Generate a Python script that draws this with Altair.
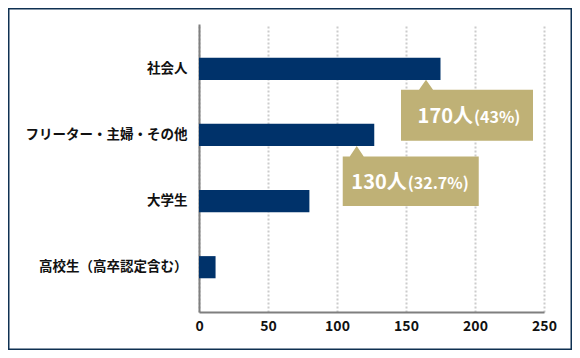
import altair as alt
import pandas as pd

# ---- data ----
categories = ["社会人", "フリーター・主婦・その他", "大学生", "高校生（高卒認定含む）"]
counts = [175, 127, 80, 12]

callout_cats = ["社会人", "フリーター・主婦・その他"]
callout_people = ["170人", "130人"]
callout_pcts = ["(43%)", "(32.7%)"]
callout_at = [164.5, 114.3]          # x value where each pointer touches the bar

x_ticks = [0, 50, 100, 150, 200, 250]

# ---- styles ----
NAVY = "#00326a"
GOLD = "#bfb176"
FRAME = "#0f3152"
FONT = "Noto Sans CJK JP"

# callout shapes (box + pointer), pixel units relative to band centre / anchor
callout_paths = [
    "M0,11 L7,21 L107,21 L107,72 L-25,72 L-25,21 L-7,21 Z",
    "M0,11 L7,21.5 L122,21.5 L122,71 L-14,71 L-14,21.5 L-7,21.5 Z",
]
callout_dx = [47, 50]
callout_dy = 54.5

bars_df = pd.DataFrame({"cat": categories, "n": counts})

x_scale = alt.Scale(domain=[0, 250], nice=False, zero=True)
y_scale = alt.Scale(domain=categories, paddingInner=0.665, paddingOuter=0.51)

bars = alt.Chart(bars_df).mark_bar(color=NAVY).encode(
    x=alt.X(
        "n:Q",
        scale=x_scale,
        title=None,
        axis=alt.Axis(
            values=x_ticks,
            grid=True,
            gridDash=[2, 2],
            gridColor="#cccccc",
            gridWidth=2,
            ticks=False,
            domainColor="#7f7f7f",
            domainWidth=2,
            labelFont=FONT,
            labelFontSize=14,
            labelFontWeight="bold",
            labelColor="#111111",
            labelPadding=7,
            labelFlush=False,
        ),
    ),
    y=alt.Y(
        "cat:N",
        scale=y_scale,
        sort=categories,
        title=None,
        axis=alt.Axis(
            grid=False,
            ticks=False,
            domainColor="#7f7f7f",
            domainWidth=2,
            labelFont=FONT,
            labelFontSize=13.5,
            labelFontWeight="bold",
            labelColor="#111111",
            labelPadding=12,
        ),
    ),
)

layers = [bars]
for i in range(len(callout_cats)):
    cdf = pd.DataFrame(
        {
            "cat": [callout_cats[i]],
            "at": [callout_at[i]],
            "people": [callout_people[i]],
            "pct": [callout_pcts[i]],
        }
    )
    base = alt.Chart(cdf).encode(
        x=alt.X("at:Q", scale=x_scale, title=None),
        y=alt.Y("cat:N", scale=y_scale, sort=categories, title=None),
    )
    box = base.mark_point(
        shape=callout_paths[i], size=4, filled=True, fill=GOLD, strokeWidth=0, opacity=1
    )
    main = base.mark_text(
        align="right", baseline="alphabetic", dx=callout_dx[i], dy=callout_dy,
        font=FONT, fontSize=20, fontWeight="bold", color="white",
    ).encode(text="people:N")
    pct = base.mark_text(
        align="left", baseline="alphabetic", dx=callout_dx[i] + 1, dy=callout_dy,
        font=FONT, fontSize=16, fontWeight="bold", color="white",
    ).encode(text="pct:N")
    layers += [box, main, pct]

frame = alt.Chart(pd.DataFrame({"k": [0]})).mark_rect(
    fill="white", fillOpacity=0, stroke=FRAME, strokeWidth=1.5
).encode(
    x=alt.value(-190.25), x2=alt.value(372.25), y=alt.value(-15.25), y2=alt.value(325.25)
)
layers.append(frame)

chart = alt.layer(*layers).properties(
    width=345,
    height=288,
    autosize=alt.AutoSizeParams(type="none"),
    padding={"left": 191, "top": 16, "right": 28, "bottom": 38},
    background="white",
).configure_view(stroke=None)

chart.save("out.html", embed_options={"renderer": "svg", "actions": False})
